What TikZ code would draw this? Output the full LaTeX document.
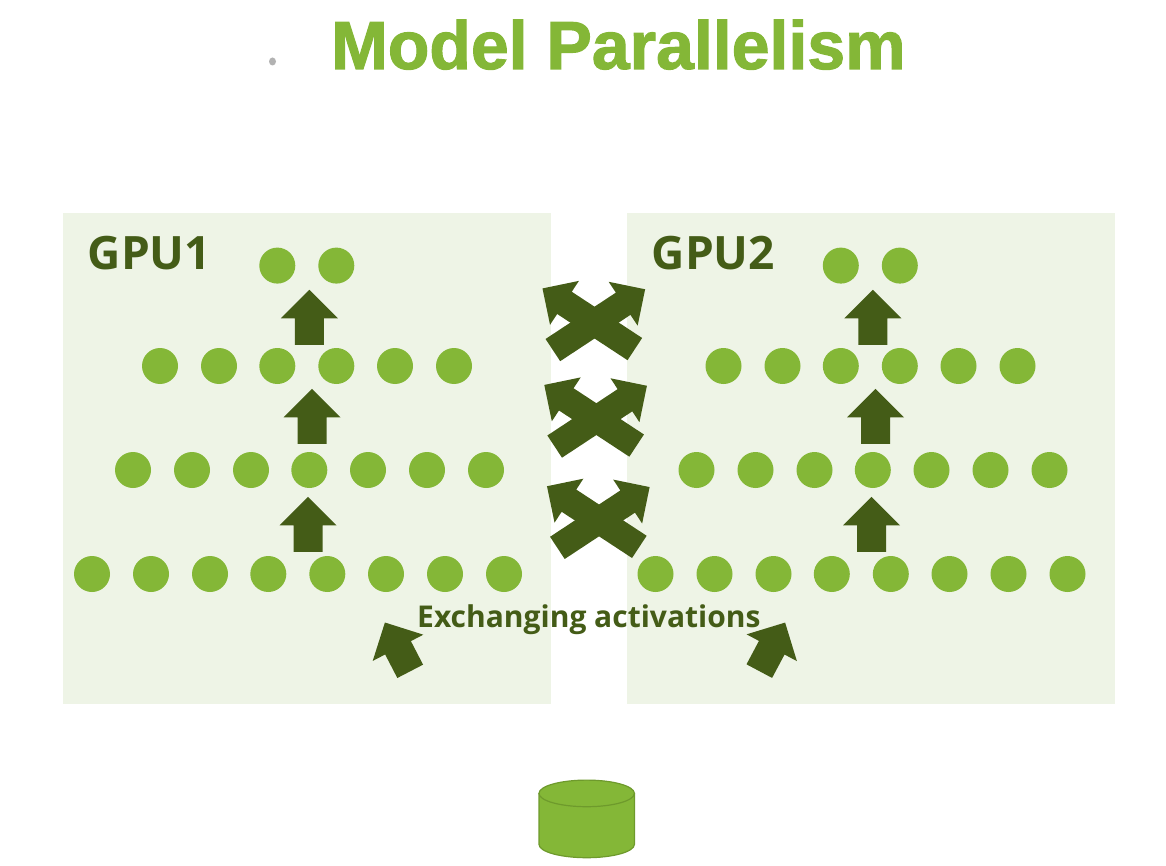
\documentclass[tikz,border=0pt]{standalone}
\usepackage{fontspec}
\setmainfont{Open Sans}
\newfontfamily\titlefont[BoldFeatures={FakeBold=1.6}]{Liberation Sans}
\usetikzlibrary{shapes.arrows,shapes.geometric}
\definecolor{nvgreen}{HTML}{84B737}
\definecolor{nvdark}{HTML}{445C17}
\definecolor{nvlight}{HTML}{EEF4E6}
\definecolor{nvedge}{HTML}{6E9A2C}
\tikzset{
  x=1pt,y=-1pt,
  gpubox/.style={fill=nvlight,draw=none,minimum width=488pt,minimum height=491pt,inner sep=0pt,anchor=north west},
  neuron/.style={circle,fill=nvgreen,draw=none,minimum size=36pt,inner sep=0pt},
  bigarrow/.style={single arrow,fill=nvdark,draw=none,anchor=tail,inner xsep=0pt,inner ysep=14.3pt,text height=0pt,text depth=0pt,text width=0pt,minimum width=57pt,minimum height=55pt,single arrow head extend=14pt,single arrow tip angle=90},
  crossarrow/.style={single arrow,fill=nvdark,draw=none,anchor=tail,inner xsep=0pt,inner ysep=13.1pt,text height=0pt,text depth=0pt,text width=0pt,minimum width=52.5pt,minimum height=110.5pt,single arrow head extend=13pt,single arrow tip angle=90},
  gpulabel/.style={anchor=base west,inner sep=0pt,text=nvdark,font=\bfseries\fontsize{46}{46}\selectfont},
  datastyle/.style={draw=nvedge,line width=1.2pt,fill=nvgreen},
}
\begin{document}
\begin{tikzpicture}
\useasboundingbox (0,0) rectangle (1166,866);
\node[gpubox] (gpuA) at (63,213) {};
\node[gpubox] (gpuB) at (627,213) {};
\node[anchor=base west,inner sep=0pt,text=nvgreen,font=\titlefont\bfseries\fontsize{68}{68}\selectfont] (title) at (331,69) {Model Parallelism};
\node[ellipse,fill=black!30,draw=none,minimum width=7pt,minimum height=8pt,inner sep=0pt] (bullet) at (272.5,61.5) {};
\node[gpulabel] (labA) at (87.5,270) {GPU1};
\node[gpulabel] (labB) at (651.5,270) {GPU2};
\foreach \off/\s in {0/a,563.5/b}{
  \foreach \x [count=\i] in {277.3,336.3}
    \node[neuron] (n\s1\i) at (\x+\off,265.6) {};
  \foreach \x [count=\i] in {160,219,277.3,336.3,395,454}
    \node[neuron] (n\s2\i) at (\x+\off,366) {};
  \foreach \x [count=\i] in {133,192,251,309.3,368,427,486}
    \node[neuron] (n\s3\i) at (\x+\off,470) {};
  \foreach \x [count=\i] in {92,151,210,268.3,327.3,386,445,504}
    \node[neuron] (n\s4\i) at (\x+\off,574) {};
  \node[bigarrow,rotate=90] (up\s1) at (309.3+\off,345) {};
  \node[bigarrow,rotate=90] (up\s2) at (312+\off,444) {};
  \node[bigarrow,rotate=90] (up\s3) at (308+\off,552) {};
}
\foreach \dx/\dy [count=\i] in {0/0,1.8/96.5,4.5/197.8}{
  \node[crossarrow,rotate=146.7] (xl\i) at (635+\dx,349.2+\dy) {};
  \node[crossarrow,rotate=33.4] (xr\i) at (552.7+\dx,350.2+\dy) {};
}
\node[bigarrow,rotate=117.4] (inL) at (410.3,671.5) {};
\node[bigarrow,rotate=62] (inR) at (759.2,671.3) {};
\node[anchor=base west,inner sep=0pt,text=nvdark,font=\bfseries\fontsize{30}{30}\selectfont] (exch) at (417,627.3) {Exchanging activations};
\coordinate (dataW) at (539,793.4);
\coordinate (dataE) at (634.4,793.4);
\path[datastyle] (dataW) -- ++(0,51) arc[start angle=180,end angle=360,x radius=47.7pt,y radius=13.3pt] -- (dataE) -- cycle;
\node[ellipse,datastyle,outer sep=0pt,minimum width=95.4pt,minimum height=26.6pt,inner sep=0pt] (dataTop) at (586.7,793.4) {};
\end{tikzpicture}
\end{document}
